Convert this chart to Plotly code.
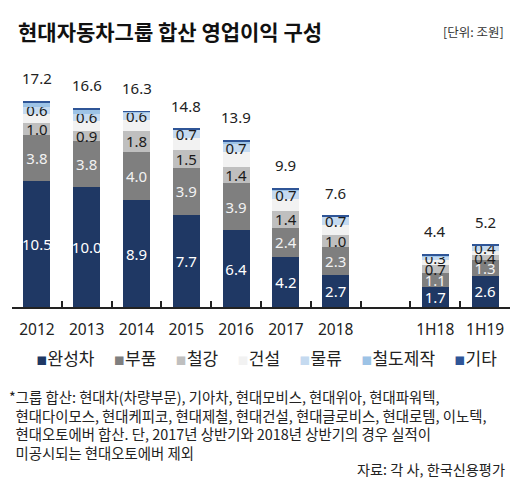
import plotly.graph_objects as go

categories = ["2012", "2013", "2014", "2015", "2016", "2017", "2018", " ", "1H18", "1H19"]
totals = [17.2, 16.6, 16.3, 14.8, 13.9, 9.9, 7.6, None, 4.4, 5.2]

car = [10.5, 10.0, 8.9, 7.7, 6.4, 4.2, 2.7, None, 1.7, 2.6]
parts = [3.8, 3.8, 4.0, 3.9, 3.9, 2.4, 2.3, None, 1.1, 1.3]
steel = [1.0, 0.9, 1.8, 1.5, 1.4, 1.4, 1.0, None, 0.7, 0.4]
construction = [0.8, 0.8, 0.9, 1.0, 1.2, 1.0, 0.8, None, 0.4, 0.4]
logistics = [0.6, 0.6, 0.6, 0.7, 0.7, 0.7, 0.7, None, 0.3, 0.4]
rail = [0.3, 0.3, 0.05, 0.0, 0.2, 0.1, 0.0, None, 0.1, 0.05]
others = [0.2, 0.2, 0.05, 0.05, 0.1, 0.1, 0.1, None, 0.1, 0.05]

series = [
    ("완성차", car, "#1F3864", True, "#FFFFFF"),
    ("부품", parts, "#7F7F7F", True, "#F2F2F2"),
    ("철강", steel, "#BFBFBF", True, "#1A1A1A"),
    ("건설", construction, "#F2F2F2", False, None),
    ("물류", logistics, "#C5DAF0", True, "#1A1A1A"),
    ("철도제작", rail, "#9DC3E6", False, None),
    ("기타", others, "#2F5597", False, None),
]

fig = go.Figure()
for name, vals, color, show, tcolor in series:
    kw = {}
    if show:
        kw = dict(
            text=[("%.1f" % v) if v is not None else "" for v in vals],
            textposition="inside",
            insidetextanchor="middle",
            textangle=0,
            constraintext="none",
            insidetextfont=dict(family="Noto Sans", size=15, color=tcolor),
        )
    fig.add_trace(go.Bar(
        x=categories, y=vals, name=name,
        marker=dict(color=color, line=dict(width=0)),
        hoverinfo="skip",
        **kw,
    ))

for i, t in enumerate(totals):
    if t is None:
        continue
    fig.add_annotation(x=i, y=t, text="%.1f" % t, showarrow=False,
                       yanchor="middle", yshift=23,
                       font=dict(family="Noto Sans", size=15, color="#222222"))

PL, PR, PT, PB = 12, 10, 67, 179
W, H = 520, 486
pw = W - PL - PR
ph = H - PT - PB

def px(x):
    return (x - PL) / pw

def py(y):
    return (H - PB - y) / ph

kr = "Noto Sans CJK KR"

fig.add_annotation(xref="paper", yref="paper", x=px(16), y=py(31), xanchor="left", yanchor="middle",
                   text="<b>현대자동차그룹 합산 영업이익 구성</b>", showarrow=False,
                   font=dict(family=kr, size=21, color="#111111"))
fig.add_annotation(xref="paper", yref="paper", x=px(506), y=py(31), xanchor="right", yanchor="middle",
                   text="[단위: 조원]", showarrow=False,
                   font=dict(family=kr, size=12.5, color="#333333"))

legend_items = [(s[0], s[2]) for s in series]
sq = "<span style='color:%s;font-family:DejaVu Sans;font-size:17px'>▪</span>"
legend_text = "&nbsp;&nbsp;&nbsp;&nbsp;&nbsp;".join((sq % col) + nm for nm, col in legend_items)
fig.add_annotation(xref="paper", yref="paper", x=px(266), y=py(357), xanchor="center", yanchor="middle",
                   text=legend_text, showarrow=False,
                   font=dict(family=kr, size=17, color="#222222"))

foot = ("*그룹 합산: 현대차(차량부문), 기아차, 현대모비스, 현대위아, 현대파워텍,<br>"
        "&nbsp;&nbsp;현대다이모스, 현대케피코, 현대제철, 현대건설, 현대글로비스, 현대로템, 이노텍,<br>"
        "&nbsp;&nbsp;현대오토에버 합산. 단, 2017년 상반기와 2018년 상반기의 경우 실적이<br>"
        "&nbsp;&nbsp;미공시되는 현대오토에버 제외")
fig.add_annotation(xref="paper", yref="paper", x=px(7), y=py(384), xanchor="left", yanchor="top",
                   text=foot, showarrow=False, align="left",
                   font=dict(family=kr, size=14.4, color="#222222"))
fig.add_annotation(xref="paper", yref="paper", x=px(507), y=py(469), xanchor="right", yanchor="middle",
                   text="자료: 각 사, 한국신용평가", showarrow=False,
                   font=dict(family=kr, size=14.2, color="#222222"))

fig.update_layout(
    width=W, height=H,
    margin=dict(l=PL, r=PR, t=PT, b=PB, pad=0),
    barmode="stack",
    bargap=0.46,
    showlegend=False,
    plot_bgcolor="white",
    paper_bgcolor="white",
    xaxis=dict(
        type="category", categoryorder="array", categoryarray=categories,
        range=[-0.5, len(categories) - 0.5],
        showline=True, linecolor="#222222", linewidth=1.5,
        ticks="inside", tickson="boundaries", ticklen=6, tickcolor="#222222", tickwidth=1.5,
        ticklabelstandoff=8,
        tickfont=dict(family="Noto Sans", size=15.5, color="#222222"),
        showgrid=False, zeroline=False,
    ),
    yaxis=dict(range=[0, 20], visible=False, showgrid=False, zeroline=False),
)

fig.write_html("out.html", config={"displayModeBar": False},
               post_script="document.body.style.margin='0';document.body.style.overflow='hidden';")
